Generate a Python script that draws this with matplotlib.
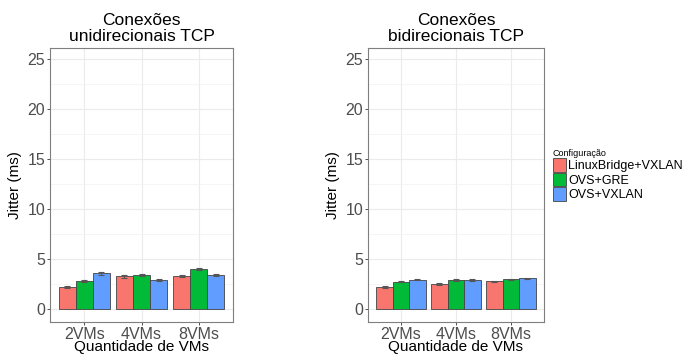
import matplotlib
matplotlib.use("Agg")
import matplotlib.pyplot as plt
import numpy as np

plt.rcParams['font.family'] = ['Liberation Sans', 'DejaVu Sans']

categories = ["2VMs", "4VMs", "8VMs"]
configs = ["LinuxBridge+VXLAN", "OVS+GRE", "OVS+VXLAN"]
colors = ["#F8766D", "#00BA38", "#619CFF"]

uni_vals = {
    "LinuxBridge+VXLAN": [2.23, 3.27, 3.33],
    "OVS+GRE": [2.77, 3.40, 4.00],
    "OVS+VXLAN": [3.57, 2.87, 3.40],
}
uni_err = {
    "LinuxBridge+VXLAN": [0.12, 0.15, 0.10],
    "OVS+GRE": [0.10, 0.10, 0.08],
    "OVS+VXLAN": [0.15, 0.10, 0.10],
}
bi_vals = {
    "LinuxBridge+VXLAN": [2.20, 2.50, 2.78],
    "OVS+GRE": [2.72, 2.92, 2.97],
    "OVS+VXLAN": [2.92, 2.92, 3.07],
}
bi_err = {
    "LinuxBridge+VXLAN": [0.07, 0.06, 0.06],
    "OVS+GRE": [0.06, 0.07, 0.08],
    "OVS+VXLAN": [0.06, 0.10, 0.08],
}

titles = ["Conexões\nunidirecionais TCP", "Conexões\nbidirecionais TCP"]
yticks = [0, 5, 10, 15, 20, 25]

fig = plt.figure(figsize=(6.89, 3.54), dpi=100)
ax1 = fig.add_axes([50/689, 1-322/354, 183/689, 274/354])
ax2 = fig.add_axes([368/689, 1-322/354, 176/689, 274/354])

x = np.arange(1, len(categories)+1)
bw = 0.3
for ax, vals, errs, title in [(ax1, uni_vals, uni_err, titles[0]), (ax2, bi_vals, bi_err, titles[1])]:
    for i, c in enumerate(configs):
        pos = x + (i-1)*bw
        ax.bar(pos, vals[c], width=bw, color=colors[i], edgecolor="#444444",
               linewidth=0.6, label=c, zorder=3)
        ax.errorbar(pos, vals[c], yerr=errs[c], fmt='none', ecolor="#555555",
                    elinewidth=0.8, capsize=2, capthick=0.8, zorder=4)
    ax.set_xlim(0.4, 3.6)
    ax.set_ylim(-1.3, 26.1)
    ax.set_xticks(x)
    ax.set_xticklabels(categories)
    ax.set_yticks(yticks)
    ax.set_yticks([2.5, 7.5, 12.5, 17.5, 22.5], minor=True)
    ax.grid(which='major', color="#EBEBEB", linewidth=0.8, zorder=0)
    ax.grid(which='minor', axis='y', color="#F2F2F2", linewidth=0.5, zorder=0)
    ax.tick_params(axis='both', which='major', labelsize=11.5, labelcolor="#4D4D4D",
                   color="#333333", length=2.5, width=0.6, pad=1)
    ax.tick_params(axis='both', which='minor', length=0)
    for sp in ax.spines.values():
        sp.set_color("#7F7F7F")
        sp.set_linewidth(0.8)
    ax.set_title(title, fontsize=12.5, pad=5, linespacing=1.05)
    ax.set_xlabel("Quantidade de VMs", fontsize=11, labelpad=-1)
    ax.set_ylabel("Jitter (ms)", fontsize=11, labelpad=4)

handles = [plt.Rectangle((0, 0), 1, 1, facecolor=colors[i], edgecolor="#444444", linewidth=0.6)
           for i in range(3)]
leg = fig.legend(handles, configs, loc='upper left', bbox_to_anchor=(550/689, 1-146/354),
                 frameon=False, title="Configuração", title_fontsize=6.5,
                 fontsize=9, handlelength=1.1, handleheight=1.3, handletextpad=0.15,
                 labelspacing=0.05, borderaxespad=0, borderpad=0.2)
leg._legend_box.align = "left"

fig.savefig("out.png", dpi=100)
